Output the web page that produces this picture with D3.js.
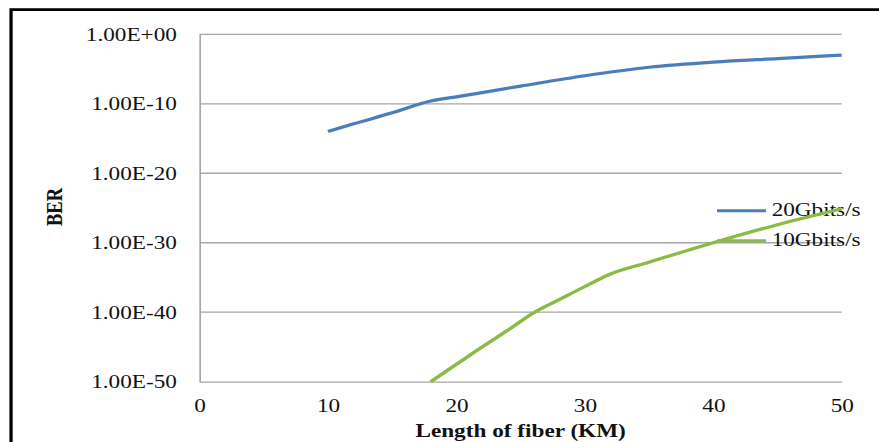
<!DOCTYPE html>
<html>
<head>
<meta charset="utf-8">
<script src="https://cdn.jsdelivr.net/npm/d3@7"></script>
<style>
  html, body { margin: 0; padding: 0; background: #fff; }
  svg { display: block; }
  text { font-family: "Liberation Serif", "Times New Roman", serif; fill: #111; }
</style>
</head>
<body>
<svg id="chart"></svg>
<script>
// values (BER is plotted on a log axis)
var km20 = [10, 12, 15, 18, 20, 25, 30, 35, 40, 45, 50];
var ber20 = [1.0e-14, 1.3e-13, 5.0e-12, 2.5e-10, 1.0e-9, 3.5e-8, 1.1e-6, 1.8e-5, 1.0e-4, 3.2e-4, 1.0e-3];
var km10 = [18, 20, 22, 24, 26, 28, 30, 32, 35, 40, 45, 50];
var ber10 = [1e-50, 3.2e-48, 1e-45, 2.5e-43, 7.9e-41, 6.3e-39, 5.0e-37, 3.2e-35, 1.6e-33, 1e-30, 4.0e-28, 8.0e-26];
var xTicks = [0, 10, 20, 30, 40, 50];
var yTicks = [1e-50, 1e-40, 1e-30, 1e-20, 1e-10, 1];
var seriesNames = ["20Gbits/s", "10Gbits/s"];
var colors = ["#4a7ebb", "#8cbb45"];

// the reference is stretched sideways, so draw in a narrower box and stretch it
var W = 700, H = 442;
var svg = d3.select("#chart")
  .attr("width", 879).attr("height", 442)
  .attr("viewBox", "0 0 " + W + " " + H)
  .attr("preserveAspectRatio", "none");

var plotL = 158.9, plotR = 670.3, plotT = 34.3, plotB = 381.7;

var x = d3.scaleLinear().domain([0, 50]).range([plotL, plotR]);
var y = d3.scaleLog().domain([1e-50, 1]).range([plotB, plotT]);

function fmt(d) {
  var e = Math.round(Math.log10(d));
  return "1.00E" + (e < 0 ? "-" : "+") + String(Math.abs(e)).padStart(2, "0");
}

// frame
svg.append("path")
  .attr("d", "M8.8," + H + "V9.6H" + W)
  .attr("fill", "none").attr("stroke", "#000").attr("stroke-width", 2.6);

// gridlines
svg.append("g").selectAll("line")
  .data(yTicks.slice(1))
  .enter().append("line")
    .attr("x1", plotL).attr("x2", plotR)
    .attr("y1", function(d) {return y(d);})
    .attr("y2", function(d) {return y(d);})
    .attr("stroke", "#a6a6a6").attr("stroke-width", 1.3);

// axes
var yAxis = svg.append("g")
  .attr("transform", "translate(" + plotL + ",0)")
  .call(d3.axisLeft(y).tickValues(yTicks).tickFormat(fmt).tickSize(0).tickPadding(18));
var xAxis = svg.append("g")
  .attr("transform", "translate(0," + plotB + ")")
  .call(d3.axisBottom(x).tickValues(xTicks).tickFormat(d3.format("d")).tickSize(0).tickPadding(17));
[yAxis, xAxis].forEach(function(a) {
  a.select(".domain").attr("stroke", "#a6a6a6").attr("stroke-width", 1.3);
  a.selectAll("text")
    .style("font-family", "'Liberation Serif', serif")
    .style("font-size", "18.5px")
    .attr("fill", "#111");
});

// axis titles
svg.append("text")
  .attr("x", (plotL + plotR) / 2).attr("y", 437)
  .attr("text-anchor", "middle")
  .style("font-size", "18.5px").style("font-weight", "bold")
  .text("Length of fiber (KM)");
svg.append("text")
  .attr("transform", "translate(49.5,207) rotate(-90)")
  .attr("text-anchor", "middle")
  .style("font-size", "18.5px").style("font-weight", "bold")
  .text("BER");

// legend
var legend = svg.append("g").selectAll("g")
  .data(seriesNames)
  .enter().append("g")
    .attr("transform", function(d, i) {return "translate(571," + (210.7 + i * 30) + ")";});
legend.append("line")
  .attr("x1", 0).attr("x2", 39)
  .attr("stroke", function(d, i) {return colors[i];})
  .attr("stroke-width", 3);
legend.append("text")
  .attr("x", 43.5).attr("y", 5.5)
  .style("font-size", "18.5px")
  .text(function(d) {return d;});

// series
var line = d3.line()
  .x(function(d) {return x(d[0]);})
  .y(function(d) {return y(d[1]);})
  .curve(d3.curveMonotoneX);

svg.append("path")
  .datum(d3.zip(km20, ber20))
  .attr("d", line)
  .attr("fill", "none").attr("stroke", colors[0]).attr("stroke-width", 3.2);
svg.append("path")
  .datum(d3.zip(km10, ber10))
  .attr("d", line)
  .attr("fill", "none").attr("stroke", colors[1]).attr("stroke-width", 3.2);
</script>
</body>
</html>
